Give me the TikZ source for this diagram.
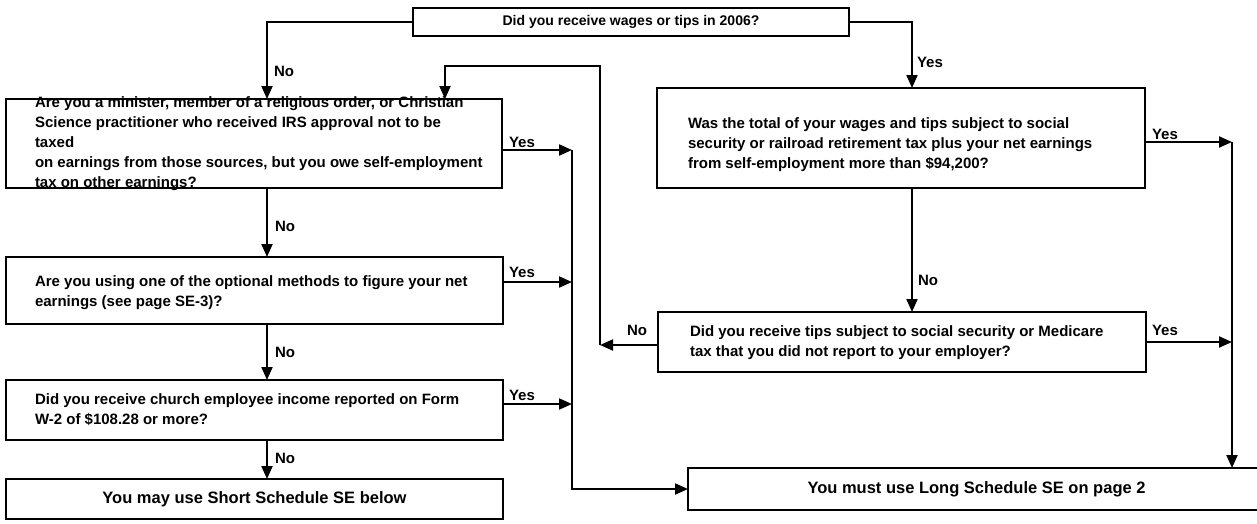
\documentclass[tikz,border=0pt]{standalone}
\usepackage{fontspec}
\setmainfont{Liberation Sans}
\usetikzlibrary{arrows.meta}

\begin{document}
\begin{tikzpicture}[x=1pt, y=-1pt,
  every node/.style={font=\bfseries\fontsize{15}{20}\selectfont, outer sep=0pt},
  box/.style={draw, line width=2pt, inner sep=0pt},
  qtext/.style={align=left, anchor=west, inner sep=0pt},
  result/.style={font=\bfseries\fontsize{16.5}{20}\selectfont},
  lbl/.style={anchor=west, inner sep=0pt},
  flow/.style={line width=2pt, -{Triangle[length=13pt,width=11pt]}}]
\useasboundingbox (0,0) rectangle (1257,523);

\node[box, minimum width=436pt, minimum height=28pt, font=\bfseries\fontsize{14}{20}\selectfont] (wages) at (631,22) {Did you receive wages or tips in 2006?};

\node[box, minimum width=496pt, minimum height=89pt] (minister) at (254,143.5) {};
\node[qtext] (ministertext) at (35,144) {Are you a minister, member of a religious order, or Christian\\Science practitioner who received IRS approval not to be\\taxed\\on earnings from those sources, but you owe self-employment\\tax on other earnings?};
\node[box, minimum width=497pt, minimum height=67pt] (optional) at (254.5,290.5) {};
\node[qtext] (optionaltext) at (35,293) {Are you using one of the optional methods to figure your net\\earnings (see page SE-3)?};
\node[box, minimum width=497pt, minimum height=60pt] (church) at (254.5,410) {};
\node[qtext] (churchtext) at (35,410) {Did you receive church employee income reported on Form\\W-2 of \$108.28 or more?};
\node[box, result, minimum width=497pt, minimum height=40pt] (short) at (254.5,499) {You may use Short Schedule SE below};

\node[box, minimum width=488pt, minimum height=100pt] (totals) at (901,138) {};
\node[qtext] (totalstext) at (688,145) {Was the total of your wages and tips subject to social\\security or railroad retirement tax plus your net earnings\\from self-employment more than \$94,200?};
\node[box, minimum width=488pt, minimum height=60pt] (tips) at (902,342) {};
\node[qtext] (tipstext) at (690,343) {Did you receive tips subject to social security or Medicare\\tax that you did not report to your employer?};
\node[box, result, minimum width=577pt, minimum height=42pt] (long) at (976.5,489) {You must use Long Schedule SE on page 2};

\coordinate (colL) at (267,0);
\coordinate (colR) at (912,0);
\coordinate (colB) at (445,0);
\coordinate (backtop) at (445,66);
\coordinate (jback) at (600,345);
\coordinate (jl1) at (572,150);
\coordinate (jl2) at (572,282);
\coordinate (jl3) at (572,404);
\coordinate (jr1) at (1232,142);
\coordinate (jr2) at (1232,342);

\draw[flow] (wages.west) -| (colL |- minister.north);
\draw[flow] (wages.east) -| (colR |- totals.north);
\draw[flow] (colL |- minister.south) -- (colL |- optional.north);
\draw[flow] (colL |- optional.south) -- (colL |- church.north);
\draw[flow] (colL |- church.south) -- (colL |- short.north);
\draw[flow] (colR |- totals.south) -- (colR |- tips.north);

\draw[flow] (minister.east |- jl1) -- (jl1);
\draw[flow] (optional.east |- jl2) -- (jl2);
\draw[flow] (church.east |- jl3) -- (jl3);
\draw[flow] (jl1) |- (long.west);

\draw[flow] (totals.east |- jr1) -- (jr1);
\draw[flow] (tips.east |- jr2) -- (jr2);
\draw[flow] (jr1) -- (jr1 |- long.north);

\draw[flow] (tips.west |- jback) -- (jback);
\draw[flow] (jback) |- (backtop) -- (colB |- minister.north);

\node[lbl] (no1) at (274,71) {No};
\node[lbl] (no2) at (275,226) {No};
\node[lbl] (no3) at (275,352) {No};
\node[lbl] (no4) at (275,458) {No};
\node[lbl] (no5) at (918,280) {No};
\node[lbl] (no6) at (627,330) {No};
\node[lbl] (yes1) at (917,62) {Yes};
\node[lbl] (yes2) at (509,142) {Yes};
\node[lbl] (yes3) at (509,272) {Yes};
\node[lbl] (yes4) at (509,395) {Yes};
\node[lbl] (yes5) at (1152,134) {Yes};
\node[lbl] (yes6) at (1152,330) {Yes};
\end{tikzpicture}
\end{document}
